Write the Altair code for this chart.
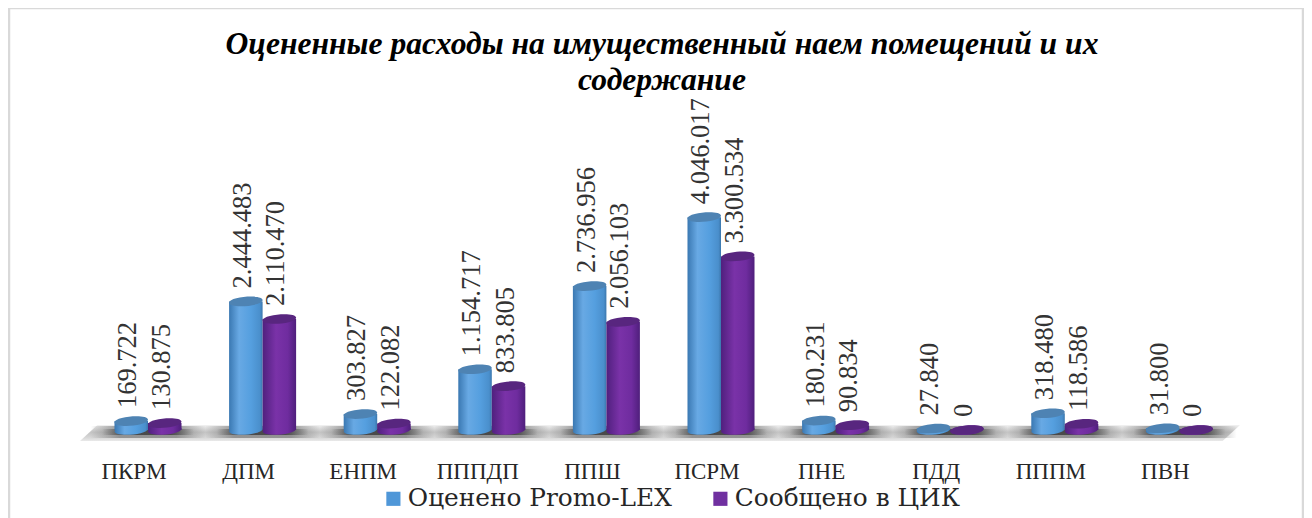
import altair as alt
import pandas as pd

categories = ["ПКРМ", "ДПМ", "ЕНПМ", "ПППДП", "ППШ", "ПСРМ", "ПНЕ", "ПДД", "ПППМ", "ПВН"]
series_names = ["Оценено Promo-LEX", "Сообщено в ЦИК"]
promo_lex = [169722, 2444483, 303827, 1154717, 2736956, 4046017, 180231, 27840, 318480, 31800]
reported = [130875, 2110470, 122082, 833805, 2056103, 3300534, 90834, 0, 118586, 0]
title_lines = ["Оцененные расходы на имущественный наем помещений и их", "содержание"]

W, H = 1296, 510
SERIF = "DejaVu Serif"
NARROW = "Liberation Serif"

rows = []
for c, a, b in zip(categories, promo_lex, reported):
    rows.append({"cat": c, "series": series_names[0], "value": a, "label": f"{a:,}".replace(",", ".")})
    rows.append({"cat": c, "series": series_names[1], "value": b, "label": f"{b:,}".replace(",", ".")})
df = pd.DataFrame(rows)
one = pd.DataFrame({"a": [0]})
cats_df = pd.DataFrame({"cat": categories})


def hgrad(stops):
    return {"gradient": "linear", "x1": 0, "x2": 1, "y1": 0, "y2": 0,
            "stops": [{"offset": o, "color": c} for o, c in stops]}


def vgrad(stops):
    return {"gradient": "linear", "x1": 0, "x2": 0, "y1": 0, "y2": 1,
            "stops": [{"offset": o, "color": c} for o, c in stops]}


blue_g = hgrad([(0, "#3a78b2"), (0.3, "#68a9e4"), (0.65, "#559fdf"), (0.92, "#4a8fcc"), (1, "#3b77ad")])
purple_g = hgrad([(0, "#50207e"), (0.4, "#7a32a8"), (0.75, "#6f2c9f"), (1, "#4f1f7c")])
blue_top = "#4e83b3"
purple_top = "#58267f"

ELLIPSE = "M-1,0.08 C-1,-0.29 1,-0.45 1,-0.08 C1,0.29 -1,0.45 -1,0.08 Z"
FLOOR = "M-1,0.0138 L-0.97,-0.0138 L1,-0.0138 L0.97,0.0138 Z"
E_SIZE = 33.5 ** 2

x_enc = alt.X(
    "cat:N",
    sort=categories,
    scale=alt.Scale(domain=categories, range=[82.7, 1228.7], paddingInner=0, paddingOuter=0, round=False),
    axis=alt.Axis(
        title=None, orient="bottom", offset=-47, domain=False, ticks=False, grid=False,
        labelAngle=0, labelFont=NARROW, labelFontSize=23, labelColor="#262626",
        labelOffset=-14, labelPadding=0, labelBaseline="middle",
    ),
)
xo_enc = alt.XOffset("series:N", sort=series_names,
                     scale=alt.Scale(domain=series_names, paddingInner=0, paddingOuter=0.71, round=False))
y_scale = alt.Scale(domain=[0, 422 / 52.6 * 1e6], range=[422, 0])
y_enc = alt.Y("value:Q", axis=None, scale=y_scale)


def frame(**kw):
    return alt.Chart(one).mark_rule(color="#d9d9d9", strokeWidth=2.5).encode(**kw)


frames = [
    frame(x=alt.value(1), y=alt.value(0), y2=alt.value(H)),
    frame(x=alt.value(W - 1), y=alt.value(0), y2=alt.value(H)),
    frame(x=alt.value(0), x2=alt.value(W), y=alt.value(0)),
]

floor = alt.Chart(one).mark_point(
    shape=FLOOR, filled=True, opacity=1, size=1160 ** 2,
    fill=vgrad([(0, "#f2f2f2"), (0.45, "#c4c4c4"), (0.75, "#d4d4d4"), (1, "#e9e9e9")]),
).encode(x=alt.value(652), y=alt.value(425))

blotch_wide = alt.Chart(cats_df).mark_rect(
    fill=hgrad([(0, "#77777700"), (0.25, "#777777"), (0.75, "#777777"), (1, "#77777700")]),
    opacity=0.7,
).encode(x=x_enc, y=alt.value(418), y2=alt.value(430))
blotch_dark = alt.Chart(cats_df).mark_rect(
    fill=hgrad([(0.1, "#33333300"), (0.3, "#333333"), (0.7, "#333333"), (0.9, "#33333300")]),
    opacity=0.75,
).encode(x=x_enc, y=alt.value(421), y2=alt.value(427))

layers = frames + [floor, blotch_wide, blotch_dark]

for name, grad, top in [(series_names[0], blue_g, blue_top), (series_names[1], purple_g, purple_top)]:
    base = alt.Chart(df).transform_filter(alt.datum.series == name)
    layers.append(base.mark_point(shape=ELLIPSE, filled=True, opacity=1, size=E_SIZE, fill=grad)
                  .encode(x=x_enc, xOffset=xo_enc, y=alt.Y(datum=0, scale=y_scale, axis=None)))
    layers.append(base.mark_bar(fill=grad, opacity=1).encode(x=x_enc, xOffset=xo_enc, y=y_enc))
    layers.append(base.mark_point(shape=ELLIPSE, filled=True, opacity=1, size=E_SIZE, fill=top)
                  .encode(x=x_enc, xOffset=xo_enc, y=y_enc))

labels = alt.Chart(df).mark_text(
    angle=270, align="left", baseline="middle", font=NARROW, fontSize=26.5, color="#333333", dx=13, dy=-3,
).encode(x=x_enc, xOffset=xo_enc, y=y_enc, text="label:N")
layers.append(labels)

legend_layer = alt.Chart(df).mark_point(filled=True, shape="square", opacity=0, size=1).encode(
    color=alt.Color(
        "series:N", sort=series_names,
        scale=alt.Scale(domain=series_names, range=["#4f97d8", "#7030a0"]),
        legend=alt.Legend(
            title=None, orient="none", legendX=373, legendY=478, direction="horizontal",
            symbolType="square", symbolSize=200, symbolOpacity=1, labelFont=SERIF, labelFontSize=24.8,
            labelColor="#262626", columns=2, columnPadding=36, labelOffset=2, symbolStrokeWidth=0,
            labelLimit=400,
        ),
    )
)
layers.append(legend_layer)

chart = alt.layer(*layers).properties(
    width=W, height=H, padding=0, background="white",
    autosize=alt.AutoSizeParams(type="none"),
    title=alt.TitleParams(
        text=title_lines, font=NARROW, fontSize=31.6, fontWeight="bold", fontStyle="italic",
        color="#000000", anchor="middle", lineHeight=36, baseline="top", dy=90, dx=6, offset=0, limit=1200,
    ),
).configure_view(stroke=None)

chart.save("out.html", embed_options={"renderer": "svg", "actions": False})
